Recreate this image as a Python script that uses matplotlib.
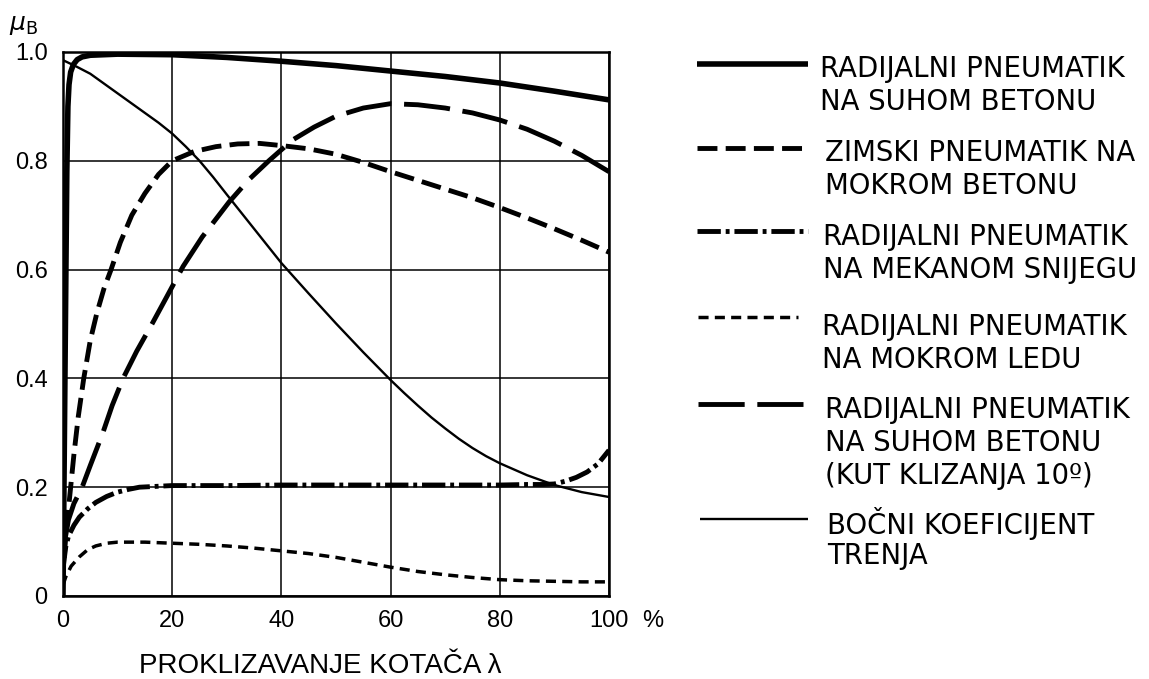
import matplotlib
matplotlib.use("Agg")
import matplotlib.pyplot as plt

# ---------------- data ----------------
slip_dry = [0, 0.4, 0.7, 0.9, 1.1, 1.4, 1.9, 2.6, 3.5, 5, 10, 20, 30, 40, 50, 60, 70, 80, 90, 100]
mu_dry = [0.0, 0.45, 0.78, 0.9, 0.94, 0.963, 0.977, 0.986, 0.991, 0.994, 0.996, 0.995,
          0.99, 0.983, 0.975, 0.965, 0.955, 0.943, 0.928, 0.912]

slip_winter = [0.2, 0.6, 1.0, 1.4, 2.0, 2.8, 3.8, 5.0, 6.2, 7.5, 8.8, 10.5, 12.6, 15, 17.5,
               20, 24, 28, 32, 36, 40, 45, 50, 55, 60, 65, 70, 75, 80, 85, 90, 95, 100]
mu_winter = [0.07, 0.12, 0.16, 0.2, 0.26, 0.33, 0.4, 0.47, 0.52, 0.565, 0.6, 0.65, 0.7, 0.74,
             0.775, 0.8, 0.817, 0.826, 0.831, 0.832, 0.828, 0.822, 0.812, 0.797, 0.78, 0.764,
             0.748, 0.732, 0.714, 0.695, 0.675, 0.654, 0.632]

slip_snow = [0, 0.5, 1, 2, 3, 4.5, 6, 8, 10, 12, 14, 20, 30, 40, 50, 60, 70, 80, 85, 88,
             90, 92, 94, 96, 98, 100]
mu_snow = [0.05, 0.09, 0.11, 0.13, 0.145, 0.16, 0.172, 0.183, 0.191, 0.196, 0.2, 0.203,
           0.203, 0.204, 0.204, 0.204, 0.204, 0.204, 0.205, 0.205, 0.206, 0.211, 0.218,
           0.228, 0.243, 0.268]

slip_ice = [0, 0.5, 1.5, 3, 4.5, 6, 8, 10, 15, 20, 25, 30, 35, 40, 45, 50, 55, 60, 65, 70,
            75, 80, 85, 90, 95, 100]
mu_ice = [0.02, 0.035, 0.055, 0.072, 0.085, 0.092, 0.097, 0.099, 0.099, 0.097, 0.095, 0.092,
          0.088, 0.083, 0.078, 0.071, 0.062, 0.053, 0.045, 0.039, 0.034, 0.03, 0.028, 0.027,
          0.026, 0.026]

slip_angle = [0.3, 1.0, 2.0, 3.5, 5.0, 7.3, 9.0, 11, 13.5, 16.3, 19, 22, 25.5, 30.4, 34,
              37.7, 42, 46, 50, 55, 60, 65, 70, 75, 80, 85, 90, 95, 100]
mu_angle = [0.1, 0.14, 0.17, 0.2, 0.24, 0.3, 0.35, 0.4, 0.45, 0.5, 0.55, 0.606, 0.66, 0.724,
            0.765, 0.8, 0.838, 0.862, 0.882, 0.897, 0.905, 0.903, 0.897, 0.888, 0.875, 0.858,
            0.836, 0.81, 0.78]

slip_lat = [0, 2.5, 5, 7.5, 10, 12.5, 15, 17.5, 20, 22.5, 25, 27.5, 30, 35, 40, 45, 50, 55,
            60, 62.5, 65, 67.5, 70, 72.5, 75, 77.5, 80, 85, 90, 95, 100]
mu_lat = [0.985, 0.973, 0.960, 0.942, 0.924, 0.906, 0.888, 0.870, 0.850, 0.826, 0.800, 0.770,
          0.738, 0.675, 0.612, 0.556, 0.501, 0.448, 0.397, 0.373, 0.350, 0.328, 0.308, 0.289,
          0.272, 0.257, 0.244, 0.222, 0.204, 0.191, 0.182]

x_ticks = [0, 20, 40, 60, 80, 100]
x_tick_labels = ["0", "20", "40", "60", "80", "100"]
y_ticks = [0, 0.2, 0.4, 0.6, 0.8, 1.0]
y_tick_labels = ["0", "0.2", "0.4", "0.6", "0.8", "1.0"]

legend_labels = [
    ["RADIJALNI PNEUMATIK", "NA SUHOM BETONU"],
    ["ZIMSKI PNEUMATIK NA", "MOKROM BETONU"],
    ["RADIJALNI PNEUMATIK", "NA MEKANOM SNIJEGU"],
    ["RADIJALNI PNEUMATIK", "NA MOKROM LEDU"],
    ["RADIJALNI PNEUMATIK", "NA SUHOM BETONU", "(KUT KLIZANJA 10º)"],
    ["BOČNI KOEFICIJENT", "TRENJA"],
]

# ---------------- styles ----------------
styles = [
    dict(lw=4.0, ls="-"),
    dict(lw=3.5, ls=(0, (4.1, 1.7))),
    dict(lw=3.5, ls=(0, (4.8, 1.0, 0.8, 1.0))),
    dict(lw=2.5, ls=(0, (2.9, 1.8))),
    dict(lw=3.5, ls=(0, (9.5, 2.6))),
    dict(lw=1.7, ls="-"),
]
series = [(slip_dry, mu_dry), (slip_winter, mu_winter), (slip_snow, mu_snow),
          (slip_ice, mu_ice), (slip_angle, mu_angle), (slip_lat, mu_lat)]

W, H = 1149, 679
fig = plt.figure(figsize=(W / 100, H / 100), dpi=100)
fig.patch.set_facecolor("white")

x0, x1 = 63, 609
y0, y1 = 596, 52
ax = fig.add_axes([x0 / W, 1 - y0 / H, (x1 - x0) / W, (y0 - y1) / H])
ax.set_xlim(0, 100)
ax.set_ylim(0, 1.0)

for (xs, ys), st in zip(series, styles):
    ax.plot(xs, ys, color="black", linewidth=st["lw"], linestyle=st["ls"],
            solid_capstyle="butt", dash_capstyle="butt", solid_joinstyle="round", zorder=3)

ax.set_xticks(x_ticks)
ax.set_xticklabels(x_tick_labels, fontfamily="Liberation Sans", fontsize=17)
ax.set_yticks(y_ticks)
ax.set_yticklabels(y_tick_labels, fontfamily="Liberation Sans", fontsize=17)
ax.tick_params(axis="both", length=0, colors="black")
ax.tick_params(axis="x", pad=10)
ax.tick_params(axis="y", pad=11)
ax.grid(True, color="black", linewidth=1.1)
ax.set_axisbelow(True)
for s in ax.spines.values():
    s.set_linewidth(1.8)
    s.set_color("black")

# "%" after 100
ax.annotate("%", xy=(100, 0), xytext=(24, -10), textcoords="offset points",
            ha="left", va="top", fontsize=17, fontfamily="Liberation Sans")

# overlay for labels and legend (pixel coordinates)
ov = fig.add_axes([0, 0, 1, 1], zorder=5)
ov.set_xlim(0, W)
ov.set_ylim(H, 0)
ov.axis("off")
ov.patch.set_alpha(0)

ov.text(9, 30, r"$\mu_{\mathrm{B}}$", fontsize=18, ha="left", va="baseline")
ov.text(320, 666, "PROKLIZAVANJE KOTAČA λ", fontsize=20,
        fontfamily=["Liberation Sans", "DejaVu Sans"], ha="center", va="center")

line_y = [64, 148, 231, 317, 404, 519]
text_y = [69, 153, 237, 327, 410, 523]
text_x = [820, 825, 823, 822, 825, 827]
line_x = [(697, 808), (697, 808), (697, 808), (698, 798), (698, 808), (700, 808)]
for i, st in enumerate(styles):
    ov.plot(line_x[i], [line_y[i], line_y[i]], color="black", linewidth=st["lw"],
            linestyle=st["ls"], solid_capstyle="butt", dash_capstyle="butt")
    for j, t in enumerate(legend_labels[i]):
        ov.text(text_x[i], text_y[i] + 33 * j, t, fontsize=19.8, fontfamily="DejaVu Sans",
                ha="left", va="center")

fig.savefig("out.png", dpi=100, facecolor="white")
